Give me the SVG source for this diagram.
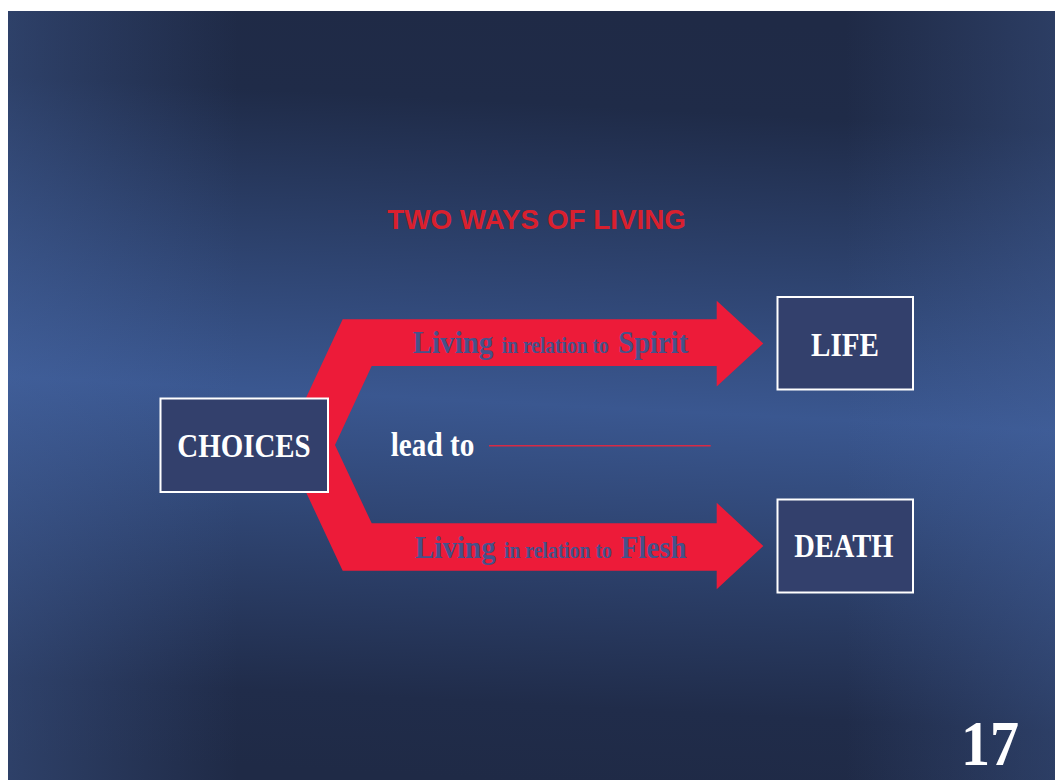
<svg xmlns="http://www.w3.org/2000/svg" width="1055" height="780" viewBox="0 0 1055 780">
  <defs>
    <linearGradient id="bgV" gradientUnits="userSpaceOnUse" x1="540" y1="11" x2="500" y2="780">
      <stop offset="0" stop-color="#1f2a46"/>
      <stop offset="0.12" stop-color="#1f2b48"/>
      <stop offset="0.51" stop-color="#3a5790"/>
      <stop offset="0.9" stop-color="#202c4a"/>
      <stop offset="1" stop-color="#1f2a46"/>
    </linearGradient>
    <linearGradient id="bgH" gradientUnits="userSpaceOnUse" x1="8" y1="0" x2="1055" y2="0">
      <stop offset="0" stop-color="#4a6aa8" stop-opacity="0.35"/>
      <stop offset="0.22" stop-color="#4a6aa8" stop-opacity="0"/>
      <stop offset="0.8" stop-color="#4a6aa8" stop-opacity="0"/>
      <stop offset="1" stop-color="#4a6aa8" stop-opacity="0.3"/>
    </linearGradient>
    <style>
      .box { fill: #33406c; stroke: #ffffff; stroke-width: 2; }
      .wt { font-family: "Liberation Serif", "Times New Roman", serif; font-weight: bold; fill: #ffffff; }
      .lbl { font-family: "Liberation Serif", "Times New Roman", serif; font-weight: bold; fill: #46528a; }
      .title { font-family: "Liberation Sans", Arial, sans-serif; font-weight: bold; fill: #d9202e; font-size: 27.8px; }
    </style>
  </defs>

  <rect x="0" y="0" width="1055" height="780" fill="#ffffff"/>
  <rect x="8" y="11" width="1047" height="769" fill="url(#bgV)"/>
  <rect x="8" y="11" width="1047" height="769" fill="url(#bgH)"/>

  <text class="title" x="387.3" y="229">TWO WAYS OF LIVING</text>

  <g id="connectors">
    <polygon fill="#ed1b39" points="342.7,319.3 716.7,319.3 716.7,300.7 763.3,343.5 716.7,386.5 716.7,366 371.7,366 335,445 371.7,523.3 716.7,523.3 716.7,502.7 763.3,546 716.7,589.3 716.7,570.7 342.7,570.7 284,445"/>
    <line x1="489" y1="445.7" x2="710.7" y2="445.7" stroke="#d82a45" stroke-width="1.6"/>
  </g>

  <g id="label-spirit">
    <text class="lbl" transform="translate(412.7,353.3) scale(0.937,1)" font-size="31">Living</text>
    <text class="lbl" transform="translate(501.7,353.3) scale(0.815,1)" font-size="24">in relation to</text>
    <text class="lbl" transform="translate(618.3,353.3) scale(0.923,1)" font-size="31">Spirit</text>
  </g>

  <g id="label-flesh">
    <text class="lbl" transform="translate(415,558.3) scale(0.937,1)" font-size="31">Living</text>
    <text class="lbl" transform="translate(504,558.3) scale(0.82,1)" font-size="24">in relation to</text>
    <text class="lbl" transform="translate(620.7,558.3) scale(0.935,1)" font-size="31">Flesh</text>
  </g>

  <g id="node-choices">
    <rect class="box" x="160.5" y="398.5" width="167.5" height="93.5"/>
    <text class="wt" transform="translate(177.3,456.7) scale(0.851,1)" font-size="34">CHOICES</text>
  </g>

  <text id="lead-to" class="wt" transform="translate(390.7,456) scale(0.886,1)" font-size="33">lead to</text>

  <g id="node-life">
    <rect class="box" x="777.5" y="297" width="135.5" height="92.5"/>
    <text class="wt" transform="translate(811,355.7) scale(0.857,1)" font-size="34">LIFE</text>
  </g>

  <g id="node-death">
    <rect class="box" x="777.5" y="499.5" width="135.5" height="93"/>
    <text class="wt" transform="translate(794.3,557.3) scale(0.838,1)" font-size="34">DEATH</text>
  </g>

  <text id="page-number" class="wt" transform="translate(961,765) scale(0.93,1)" font-size="62.5">17</text>
</svg>
